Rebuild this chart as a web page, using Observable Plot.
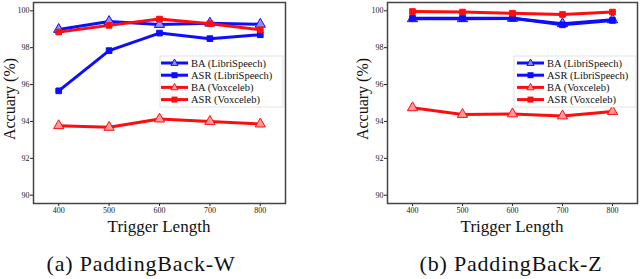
<!DOCTYPE html>
<html><head><meta charset="utf-8">
<script src="https://cdn.jsdelivr.net/npm/d3@7"></script>
<script src="https://cdn.jsdelivr.net/npm/@observablehq/plot@0.6"></script>
<style>
body{margin:0;background:#fff;}
#fig{position:relative;width:640px;height:279px}
</style></head><body><div id="fig"></div>
<script>
// ---------- data ----------
const lengths = [400, 500, 600, 700, 800];
const seriesNames = ["BA (LibriSpeech)", "ASR (LibriSpeech)", "BA (Voxceleb)", "ASR (Voxceleb)"];
const seriesColors = ["#0d0dff", "#0d0dff", "#ff0d0d", "#ff0d0d"];
const seriesSymbols = ["triangle", "square", "triangle", "square"];
// (a) PaddingBack-W
const wBALibri  = [98.99, 99.42, 99.26, 99.33, 99.27];
const wASRLibri = [95.66, 97.84, 98.79, 98.49, 98.70];
const wBAVox    = [93.77, 93.68, 94.13, 94.00, 93.86];
const wASRVox   = [98.85, 99.21, 99.55, 99.30, 98.97];
// (b) PaddingBack-Z
const zBALibri  = [99.57, 99.57, 99.59, 99.30, 99.51];
const zASRLibri = [99.60, 99.60, 99.60, 99.24, 99.48];
const zBAVox    = [94.74, 94.38, 94.41, 94.30, 94.54];
const zASRVox   = [99.96, 99.93, 99.87, 99.80, 99.93];
const yTicks = [90, 92, 94, 96, 98, 100];
const captions = ["(a) PaddingBack-W", "(b) PaddingBack-Z"];
const xLabel = "Trigger Length";
const yLabel = "Accuary (%)";
const FONT = "Liberation Serif";

function rows(arrays) {
  const out = [];
  arrays.forEach((arr, s) => arr.forEach((v, i) => out.push({x: lengths[i], y: v, s})));
  return out;
}

function panel(arrays, ml, mr) {
  const data = rows(arrays);
  const marks = [];
  for (let s = 0; s < 4; s++) {
    const d = data.filter(r => r.s === s);
    marks.push(Plot.line(d, {x: "x", y: "y", stroke: seriesColors[s], strokeWidth: 3}));
    marks.push(Plot.dot(d, {x: "x", y: "y", symbol: seriesSymbols[s], r: s % 2 === 0 ? 3.8 : 3.2,
      stroke: seriesColors[s], strokeWidth: 1,
      fill: s % 2 === 0 ? (s < 2 ? "#8f8fff" : "#ff9a9a") : seriesColors[s]}));
  }
  return Plot.plot({
    width: 320, height: 240,
    marginLeft: ml, marginRight: mr, marginTop: 2, marginBottom: 37,
    style: {fontFamily: FONT, fontSize: "8px", background: "white", color: "#222"},
    x: {domain: [350, 850]},
    y: {domain: [89.55, 100.45]},
    marks: [
      Plot.axisX({ticks: lengths, tickSize: 3, tickPadding: 1, label: null, tickFormat: d => String(d)}),
      Plot.axisY({ticks: yTicks, tickSize: 3, tickPadding: 1, label: null}),
      ...marks,
      Plot.frame({stroke: "#444", strokeWidth: 1.5})
    ]
  });
}

const fig = document.getElementById("fig");
const p1 = panel([wBALibri, wASRLibri, wBAVox, wASRVox], 33, 35);
p1.style.position = "absolute"; p1.style.top = "0px"; p1.style.left = "0px";
const p2 = panel([zBALibri, zASRLibri, zBAVox, zASRVox], 67, 3);
p2.style.position = "absolute"; p2.style.top = "0px"; p2.style.left = "320px";
fig.appendChild(p1); fig.appendChild(p2);

// ---------- labels, legends, captions ----------
const ns = "http://www.w3.org/2000/svg";
const over = document.createElementNS(ns, "svg");
over.setAttribute("width", 640); over.setAttribute("height", 279);
over.style.position = "absolute"; over.style.left = "0px"; over.style.top = "0px";
over.style.pointerEvents = "none";
fig.appendChild(over);
function el(tag, attrs, text) {
  const e = document.createElementNS(ns, tag);
  for (const k in attrs) e.setAttribute(k, attrs[k]);
  if (text != null) e.textContent = text;
  over.appendChild(e);
  return e;
}
const panels = [{cx: 159, yl: 9, lx: 161, lbx: 160, lbw: 123, capx: 141}, {cx: 512, yl: 362, lx: 517, lbx: 514, lbw: 122, capx: 511}];
panels.forEach((p, k) => {
  el("text", {x: p.cx, y: 232, "text-anchor": "middle", "font-family": FONT, "font-size": 17, fill: "#111"}, xLabel);
  el("text", {transform: `translate(${p.yl + 6},99) rotate(-90)`, "text-anchor": "middle", "font-family": FONT, "font-size": 16, fill: "#111"}, yLabel);
  el("text", {x: p.capx, y: 271, "text-anchor": "middle", "font-family": FONT, "font-size": 22, "letter-spacing": 0.8, fill: "#111"}, captions[k]);
  el("rect", {x: p.lbx, y: 56, width: p.lbw, height: 51, fill: "white", stroke: "#ddd", "stroke-width": 0.8});
  seriesNames.forEach((name, s) => {
    const y = 63 + s * 12.2;
    el("line", {x1: p.lx, x2: p.lx + 27, y1: y, y2: y, stroke: seriesColors[s], "stroke-width": 3});
    const c = p.lx + 13.5;
    if (seriesSymbols[s] === "square") {
      el("rect", {x: c - 3, y: y - 3, width: 6, height: 6, fill: seriesColors[s]});
    } else {
      el("path", {d: `M${c},${y - 4}L${c + 3.6},${y + 2.4}L${c - 3.6},${y + 2.4}Z`, fill: s < 2 ? "#8f8fff" : "#ff9a9a", stroke: seriesColors[s], "stroke-width": 1});
    }
    el("text", {x: p.lx + 30, y: y + 3.6, "font-family": FONT, "font-size": 10.5, fill: "#111"}, name);
  });
});
</script>
</body></html>
